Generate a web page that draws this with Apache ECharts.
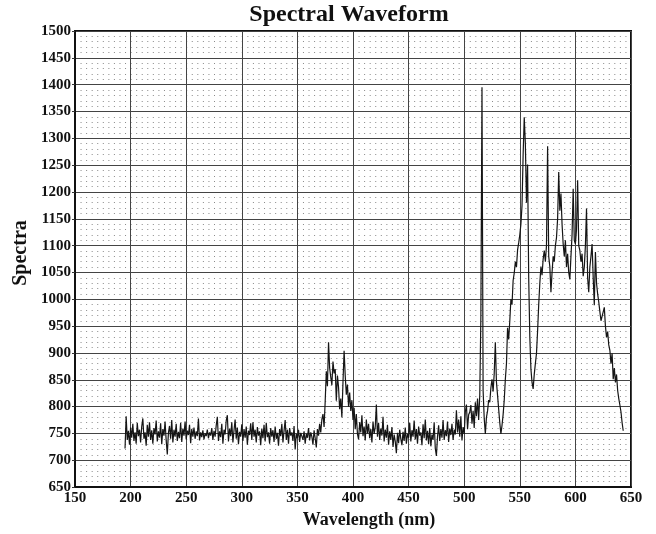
<!DOCTYPE html>
<html>
<head>
<meta charset="utf-8">
<script src="https://cdn.jsdelivr.net/npm/echarts@6/dist/echarts.min.js"></script>
<style>
  html, body { margin: 0; padding: 0; background: #fff; }
  #chart { width: 656px; height: 534px; }
</style>
</head>
<body>
<div id="chart"></div>
<script>
var samplingNm = 1;

// 195 - 369 nm, flat noisy baseline
var baselineLeftStart = 195;
var baselineLeft = [
  722, 782, 738, 755, 729, 761, 742, 768, 736, 752,
  731, 770, 745, 757, 733, 763, 778, 740, 752, 727,
  766, 744, 771, 738, 756, 731, 760, 748, 774, 735,
  754, 742, 769, 730, 758, 746, 772, 737, 711, 751,
  764, 740, 775, 733, 757, 744, 768, 736, 753, 741,
  770, 734, 759, 746, 772, 739, 755, 747, 766, 732,
  758, 744, 761, 740, 754, 745, 778, 737, 752, 743,
  756, 739, 750, 745, 757, 741, 752, 746, 760, 738,
  755, 744, 765, 781, 736, 754, 743, 768, 731, 757,
  748, 774, 784, 735, 759, 745, 771, 733, 756, 776,
  740, 761, 730, 753, 744, 767, 736, 758, 742, 763,
  729, 755, 747, 769, 738, 771, 744, 757, 733, 762,
  746, 754, 728, 759, 741, 766, 735, 770, 743, 752,
  731, 760, 744, 756, 734, 763, 740, 751, 727, 758,
  745, 768, 733, 755, 775, 738, 757, 731, 760, 746,
  752, 736, 764, 720, 749, 741, 757, 734, 751, 745,
  738, 754, 731, 749, 742, 760, 737, 752, 744, 729,
  756, 741, 724, 758, 746
];

// 370 - 404 nm, small hump
var humpStart = 370;
var hump = [
  768, 752, 776, 786, 762, 810, 866, 838, 920, 872,
  855, 840, 884, 862, 870, 811, 858, 836, 795, 815,
  780, 846, 904, 858, 822, 841, 800, 826, 792, 812,
  775, 798, 758, 786, 749
];

// 405 - 504 nm, baseline again
var baselineMidStart = 405;
var baselineMid = [
  739, 771, 752, 784, 745, 763, 737, 776, 750, 768,
  741, 758, 733, 772, 749, 762, 804, 744, 770, 738,
  759, 746, 781, 735, 757, 742, 766, 729, 754, 738,
  762, 725, 748, 735, 713, 751, 732, 757, 740, 728,
  753, 736, 761, 731, 749, 742, 770, 735, 756, 744,
  774, 739, 758, 731, 763, 746, 752, 728, 767, 741,
  776, 737, 755, 730, 760, 726, 748, 738, 771, 722,
  708, 744, 765, 736, 758, 742, 775, 738, 756, 745,
  772, 734, 759, 747, 768, 738, 757, 748, 793, 752,
  776, 744, 782, 737, 762, 749, 790, 804, 758, 785
];

// 505 - 643 nm, main emission band
var peakStart = 505;
var peaks = [
  790, 803, 768, 792, 760, 808, 782, 815, 775, 821,
  970, 1395, 830, 778, 749, 780, 792, 812, 808, 835,
  851, 828, 862, 920, 846, 821, 795, 770, 749, 765,
  785, 812, 851, 880, 947, 925, 960, 1000, 990, 1035,
  1049, 1070, 1060, 1092, 1105, 1120, 1140, 1175, 1270, 1339,
  1290, 1180, 1251, 1040, 930, 870, 845, 833, 860, 880,
  899, 941, 990, 1030, 1061, 1045, 1075, 1091, 1070, 1100,
  1285, 1080, 1061, 1013, 1050, 1080, 1070, 1100, 1115, 1150,
  1237, 1165, 1197, 1140, 1103, 1080, 1110, 1060, 1085, 1050,
  1037, 1080, 1120, 1206, 1110, 1103, 1130, 1222, 1100, 1091,
  1070, 1085, 1043, 1060, 1100, 1169, 1040, 1013, 1060, 1080,
  1103, 1040, 989, 1088, 1030, 1010, 995, 977, 960, 968,
  965, 985, 950, 929, 940, 915, 905, 880, 899, 851,
  872, 845, 860, 830, 815, 803, 790, 770, 755
];

var xMin = 150, xMax = 650, xStep = 50;
var yMin = 650, yMax = 1500, yStep = 50;

function pairs(start, vals) {
  var out = [];
  for (var i = 0; i < vals.length; i++) {
    out.push([start + i * samplingNm, vals[i]]);
  }
  return out;
}

var spectrum = []
  .concat(pairs(baselineLeftStart, baselineLeft))
  .concat(pairs(humpStart, hump))
  .concat(pairs(baselineMidStart, baselineMid))
  .concat(pairs(peakStart, peaks));

var serif = '"Liberation Serif", "DejaVu Serif", serif';

// plot is 556 px wide for 500 nm, minor step 5 nm -> dot pitch
var dotPitch = 556 / 100;

var chart = echarts.init(document.getElementById('chart'));
var option = {
  animation: false,
  backgroundColor: '#fff',
  title: {
    text: 'Spectral Waveform',
    left: 349,
    top: 3,
    textAlign: 'center',
    padding: 0,
    textStyle: { fontFamily: serif, fontWeight: 'bold', fontSize: 24, color: '#111' }
  },
  graphic: [{
    type: 'text',
    x: 21,
    y: 253,
    rotation: Math.PI / 2,
    style: {
      text: 'Spectra',
      font: 'bold 20px ' + serif,
      fill: '#111',
      textAlign: 'center',
      textVerticalAlign: 'middle'
    }
  }],
  grid: {
    left: 75, right: 25, top: 31, bottom: 32,
    show: true,
    borderColor: '#111',
    borderWidth: 2,
    backgroundColor: 'transparent'
  },
  xAxis: {
    type: 'value',
    min: xMin, max: xMax, interval: xStep,
    name: 'Wavelength (nm)',
    nameLocation: 'middle',
    nameGap: 15,
    nameTextStyle: {
      fontFamily: serif, fontWeight: 'bold', fontSize: 18, color: '#111',
      padding: [0, 0, 0, 32]
    },
    axisLine: { lineStyle: { color: '#111', width: 2 } },
    axisTick: { show: false },
    axisLabel: { fontFamily: serif, fontWeight: 'bold', fontSize: 15, color: '#111', margin: 4 },
    splitLine: { show: true, lineStyle: { color: '#444', width: 1 } },
    minorTick: { show: false, splitNumber: 10 },
    minorSplitLine: { show: false }
  },
  yAxis: {
    type: 'value',
    min: yMin, max: yMax, interval: yStep,
    axisLine: { show: true, lineStyle: { color: '#111', width: 2 } },
    axisTick: { show: true, length: 3, lineStyle: { color: '#333' } },
    axisLabel: {
      fontFamily: serif, fontWeight: 'bold', fontSize: 15, color: '#111', margin: 4,
      formatter: function (v) { return String(v); }
    },
    splitLine: { show: true, lineStyle: { color: '#444', width: 1 } },
    minorTick: { show: false, splitNumber: 5 },
    minorSplitLine: {
      show: true,
      lineStyle: { color: '#8a8a8a', width: 1, type: [1, dotPitch - 1] }
    }
  },
  series: [{
    name: 'Spectra',
    type: 'line',
    data: spectrum,
    showSymbol: false,
    symbol: 'none',
    lineStyle: { color: '#151515', width: 1.2 },
    z: 3
  }]
};
chart.setOption(option);
</script>
</body>
</html>
